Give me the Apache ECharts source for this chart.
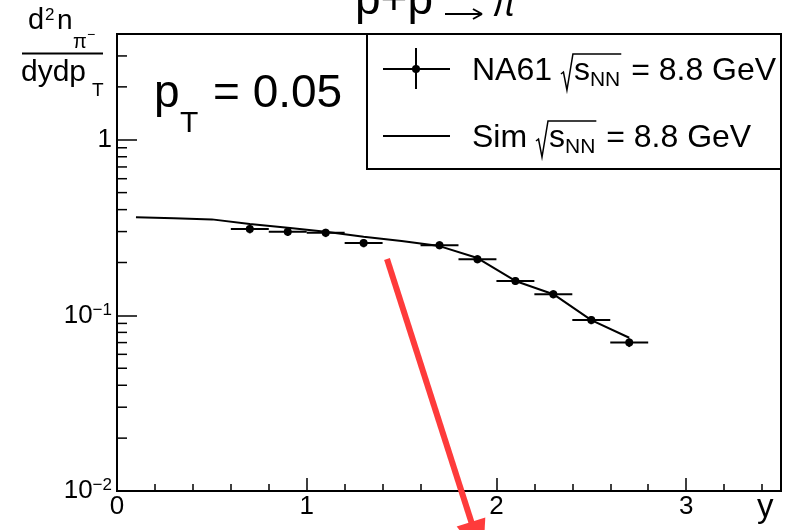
<!DOCTYPE html>
<html>
<head>
<meta charset="utf-8">
<script src="https://cdn.jsdelivr.net/npm/echarts@6/dist/echarts.min.js"></script>
<style>
html, body { margin: 0; padding: 0; background: #fff; }
#chart { width: 787px; height: 530px; }
</style>
</head>
<body>
<div id="chart"></div>
<script>
// NA61 data points (rapidity bins)
const rapidity = [0.7, 0.9, 1.1, 1.3, 1.7, 1.9, 2.1, 2.3, 2.5, 2.7];
const na61Yield = [0.310, 0.299, 0.295, 0.258, 0.251, 0.209, 0.157, 0.132, 0.094, 0.070];
const na61YErr = [0.017, 0.016, 0.016, 0.014, 0.013, 0.011, 0.008, 0.007, 0.005, 0.004];
const na61XErr = [0.1, 0.1, 0.1, 0.1, 0.1, 0.1, 0.1, 0.1, 0.1, 0.1];

// simulation curve
const simRapidity = [0.1, 0.3, 0.5, 0.7, 0.9, 1.1, 1.3, 1.5, 1.7, 1.9, 2.1, 2.3, 2.5, 2.7];
const simYield = [0.362, 0.357, 0.352, 0.331, 0.315, 0.299, 0.280, 0.265, 0.248, 0.212, 0.157, 0.132, 0.094, 0.0746];

// log axis minor ticks
const yMinorTicks = [0.02, 0.03, 0.04, 0.05, 0.06, 0.07, 0.08, 0.09,
  0.2, 0.3, 0.4, 0.5, 0.6, 0.7, 0.8, 0.9, 2, 3];

const FONT = '"Liberation Sans", Arial, sans-serif';
const measureCtx = document.createElement('canvas').getContext('2d');
function tw(s, fs) {
  measureCtx.font = fs + 'px ' + FONT;
  return measureCtx.measureText(s).width;
}
function txt(s, x, y, fs, extra) {
  return {
    type: 'text', x: x, y: y, silent: true,
    style: Object.assign({ text: s, fontSize: fs, fontFamily: FONT, fill: '#000', verticalAlign: 'middle', align: 'left' }, extra || {})
  };
}
function seg(x1, y1, x2, y2, w) {
  return { type: 'line', silent: true, shape: { x1: x1, y1: y1, x2: x2, y2: y2 }, style: { stroke: '#000', lineWidth: w || 2 } };
}

// one legend line: "<label> √s_NN = 8.8 GeV"
function legendText(label, x, yc) {
  const fs = 32, sub = 21;
  const els = [];
  els.push(txt(label + ' ', x, yc, fs));
  let cx = x + tw(label + ' ', fs);
  const sq = cx;
  cx += 13;
  els.push(txt('s', cx, yc, fs));
  cx += tw('s', fs);
  els.push(txt('NN', cx, yc + 9, sub));
  cx += tw('NN', sub);
  els.push({
    type: 'polyline', silent: true,
    shape: { points: [[sq, yc + 3], [sq + 2.5, yc + 1], [sq + 6, yc + 19], [sq + 12, yc - 17], [cx + 1, yc - 17]] },
    style: { stroke: '#000', lineWidth: 1.5, fill: null }
  });
  els.push(txt(' = 8.8 GeV', cx + 2, yc, fs));
  return els;
}

const graphics = [
  // title (top is cut off by the canvas edge)
  txt('p+p', 355, 1, 46),
  seg(445, 14, 482, 14, 2),
  seg(482, 14, 473, 9, 2),
  seg(482, 14, 473, 19, 2),
  txt('\u03c0', 492, 6, 36, { fontStyle: 'italic' }),
  // y title
  txt('d', 28, 21, 29),
  txt('2', 45, 15, 17),
  txt('n', 57, 21, 28),
  txt('\u03c0', 73, 42, 20),
  txt('\u2212', 87, 35, 14),
  seg(22, 53.5, 103, 53.5, 2),
  txt('dydp', 21, 72.5, 30),
  txt('T', 92, 91, 19),
  // pT label
  txt('p', 154, 94.5, 46),
  txt('T', 180, 124, 30),
  txt('= 0.05', 213, 94.5, 46),
  // x axis title
  txt('y', 757, 508, 33),
  // legend box
  { type: 'rect', silent: true, shape: { x: 367, y: 34, width: 414, height: 135 }, style: { fill: '#fff', stroke: '#000', lineWidth: 2 }, z: 10 },
  Object.assign(seg(383, 69, 450, 69, 2), { z: 11 }),
  Object.assign(seg(416, 48, 416, 89, 2), { z: 11 }),
  { type: 'circle', silent: true, z: 11, shape: { cx: 416, cy: 69, r: 4 }, style: { fill: '#000' } },
  Object.assign(seg(383, 136, 450, 136, 2), { z: 11 }),
  // red arrow
  { type: 'line', silent: true, z: 20, shape: { x1: 387, y1: 259, x2: 472, y2: 524 }, style: { stroke: '#fe3b3b', lineWidth: 6 } },
  { type: 'polygon', silent: true, z: 20, shape: { points: [[485.3, 517.4], [456.7, 526.6], [483, 560]] }, style: { fill: '#fe3b3b' } }
];
legendText('NA61', 472, 71).concat(legendText('Sim', 472, 138)).forEach(function (e) {
  e.z = 12;
  graphics.push(e);
});

const chart = echarts.init(document.getElementById('chart'));
const option = {
  animation: false,
  grid: { left: 117, right: 6, top: 34, bottom: 39, show: true, borderColor: '#000', borderWidth: 2, backgroundColor: 'transparent' },
  xAxis: [
    {
      type: 'value', min: 0, max: 3.5, interval: 1, position: 'bottom',
      axisLine: { onZero: false, lineStyle: { color: '#000', width: 2 } },
      axisTick: { inside: true, length: 13, lineStyle: { color: '#000', width: 1.5 } },
      axisLabel: { showMaxLabel: false, color: '#000', fontSize: 26, fontFamily: FONT, margin: 3 },
      splitLine: { show: false }
    },
    {
      type: 'value', min: 0, max: 3.5, interval: 0.2, position: 'bottom',
      axisLine: { show: false },
      axisTick: { inside: true, length: 7, lineStyle: { color: '#000', width: 1.5 } },
      axisLabel: { show: false },
      splitLine: { show: false }
    }
  ],
  yAxis: {
    type: 'log', logBase: 10, min: 0.01, max: 4,
    axisLine: { lineStyle: { color: '#000', width: 2 } },
    axisTick: { inside: true, length: 20, lineStyle: { color: '#000', width: 1.5 } },
    axisLabel: {
      margin: 5, color: '#000',
      formatter: function (v) {
        const l = Math.log10(v);
        const e = Math.round(l);
        if (Math.abs(l - e) > 1e-6) return '';
        if (e === 0) return '{b|1}';
        return '{b|10}{sup|\u2212' + (-e) + '}';
      },
      rich: {
        b: { fontSize: 26, lineHeight: 28, fontFamily: FONT, color: '#000' },
        sup: { fontSize: 17, lineHeight: 14, fontFamily: FONT, color: '#000', verticalAlign: 'top' }
      }
    },
    splitLine: { show: false }
  },
  series: [
    {
      type: 'line', name: 'Sim',
      data: simRapidity.map(function (x, i) { return [x, simYield[i]]; }),
      showSymbol: false, symbol: 'none', silent: true,
      lineStyle: { color: '#000', width: 2 }, z: 2
    },
    {
      type: 'custom', name: 'NA61', silent: true, z: 3,
      data: rapidity.map(function (x, i) { return [x, na61Yield[i], na61XErr[i], na61YErr[i]]; }),
      renderItem: function (params, api) {
        const x = api.value(0), y = api.value(1), ex = api.value(2), ey = api.value(3);
        const c = api.coord([x, y]);
        const l = api.coord([x - ex, y]);
        const r = api.coord([x + ex, y]);
        const lo = api.coord([x, y - ey]);
        const hi = api.coord([x, y + ey]);
        return {
          type: 'group',
          children: [
            { type: 'line', shape: { x1: l[0], y1: c[1], x2: r[0], y2: c[1] }, style: { stroke: '#000', lineWidth: 2 } },
            { type: 'line', shape: { x1: c[0], y1: lo[1], x2: c[0], y2: hi[1] }, style: { stroke: '#000', lineWidth: 2 } },
            { type: 'circle', shape: { cx: c[0], cy: c[1], r: 4 }, style: { fill: '#000' } }
          ]
        };
      }
    },
    {
      type: 'custom', name: 'yMinor', silent: true, clip: false, z: 3,
      data: yMinorTicks.map(function (v) { return [0, v]; }),
      renderItem: function (params, api) {
        const p = api.coord([api.value(0), api.value(1)]);
        return { type: 'line', shape: { x1: p[0], y1: p[1], x2: p[0] + 10, y2: p[1] }, style: { stroke: '#000', lineWidth: 1.5 } };
      }
    }
  ],
  graphic: graphics
};
chart.setOption(option);
</script>
</body>
</html>
